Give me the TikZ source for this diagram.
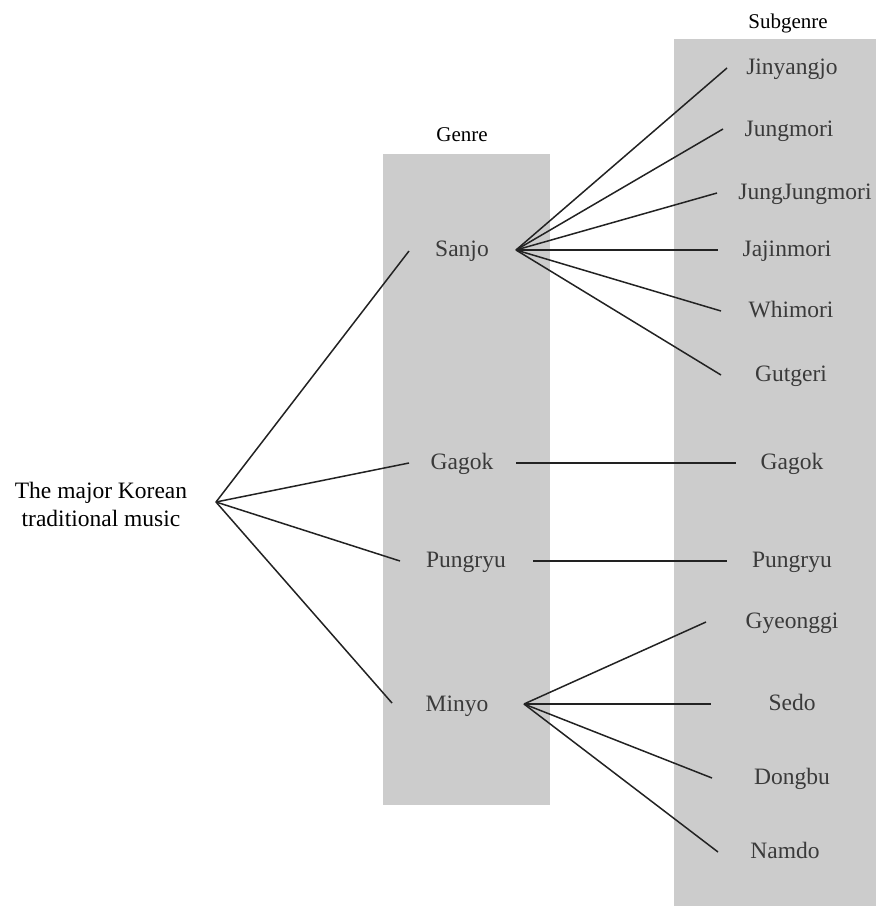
\documentclass[tikz,border=0pt]{standalone}
\usepackage{fontspec}
\setmainfont{Liberation Serif}
\definecolor{boxgray}{HTML}{CCCCCC}
\definecolor{labelgray}{HTML}{3A3A3A}
\definecolor{linegray}{HTML}{222222}
\begin{document}
\begin{tikzpicture}[x=1pt,y=-1pt,
  lbl/.style={font=\fontsize{23.5}{28}\selectfont, text=labelgray, inner sep=0pt, text height=12pt, text depth=0pt},
  hdr/.style={font=\fontsize{21}{26}\selectfont, text=black, inner sep=0pt, text height=12pt, text depth=0pt},
  conn/.style={draw=linegray, line width=1.5pt},
  panel/.style={fill=boxgray, draw=none}]
\useasboundingbox (0,0) rectangle (876,906);
% background panels
\fill[panel] (383,154) rectangle (550,805);
\fill[panel] (674,39) rectangle (876,906);
% headers
\node[hdr] (genre) at (462,135) {Genre};
\node[hdr] (subgenre) at (788,22) {Subgenre};
% root
\node[font=\fontsize{23.5}{28}\selectfont, text=black, inner sep=0pt, align=center] (root) at (101,504) {The major Korean\\traditional music};
% genre labels
\node[lbl] (sanjo) at (462,250) {Sanjo};
\node[lbl] (gagok) at (462,463) {Gagok};
\node[lbl] (pungryu) at (466,561) {Pungryu};
\node[lbl] (minyo) at (457,705) {Minyo};
% subgenre labels
\node[lbl] (jin) at (792,68) {Jinyangjo};
\node[lbl] (jung) at (789,130) {Jungmori};
\node[lbl] (jj) at (805,193) {JungJungmori};
\node[lbl] (jaj) at (787,250) {Jajinmori};
\node[lbl] (whi) at (791,311) {Whimori};
\node[lbl] (gut) at (791,375) {Gutgeri};
\node[lbl] (gagok2) at (792,463) {Gagok};
\node[lbl] (pungryu2) at (792,561) {Pungryu};
\node[lbl] (gye) at (792,622) {Gyeonggi};
\node[lbl] (sedo) at (792,704) {Sedo};
\node[lbl] (dong) at (792,778) {Dongbu};
\node[lbl] (nam) at (785,852) {Namdo};
% junctions and line ends
\coordinate (rootJ) at (216,502);
\coordinate (sanjoJ) at (516,250);
\coordinate (minyoJ) at (524,704);
\coordinate (sanjoL) at (409,251);
\coordinate (gagokL) at (409,463);
\coordinate (pungryuL) at (400,561);
\coordinate (minyoL) at (392,703);
\coordinate (gagokR) at (516,463);
\coordinate (pungryuR) at (533,561);
\coordinate (jinE) at (727,68);
\coordinate (jungE) at (723,129);
\coordinate (jjE) at (717,193);
\coordinate (jajE) at (718,250);
\coordinate (whiE) at (721,311);
\coordinate (gutE) at (721,375);
\coordinate (gagok2E) at (736,463);
\coordinate (pungryu2E) at (727,561);
\coordinate (gyeE) at (706,622);
\coordinate (sedoE) at (711,704);
\coordinate (dongE) at (712,778);
\coordinate (namE) at (718,852);
% connectors
\draw[conn] (rootJ) -- (sanjoL);
\draw[conn] (rootJ) -- (gagokL);
\draw[conn] (rootJ) -- (pungryuL);
\draw[conn] (rootJ) -- (minyoL);
\draw[conn] (sanjoJ) -- (jinE);
\draw[conn] (sanjoJ) -- (jungE);
\draw[conn] (sanjoJ) -- (jjE);
\draw[conn] (sanjoJ) -- (jajE);
\draw[conn] (sanjoJ) -- (whiE);
\draw[conn] (sanjoJ) -- (gutE);
\draw[conn] (gagokR) -- (gagok2E);
\draw[conn] (pungryuR) -- (pungryu2E);
\draw[conn] (minyoJ) -- (gyeE);
\draw[conn] (minyoJ) -- (sedoE);
\draw[conn] (minyoJ) -- (dongE);
\draw[conn] (minyoJ) -- (namE);
\end{tikzpicture}
\end{document}
